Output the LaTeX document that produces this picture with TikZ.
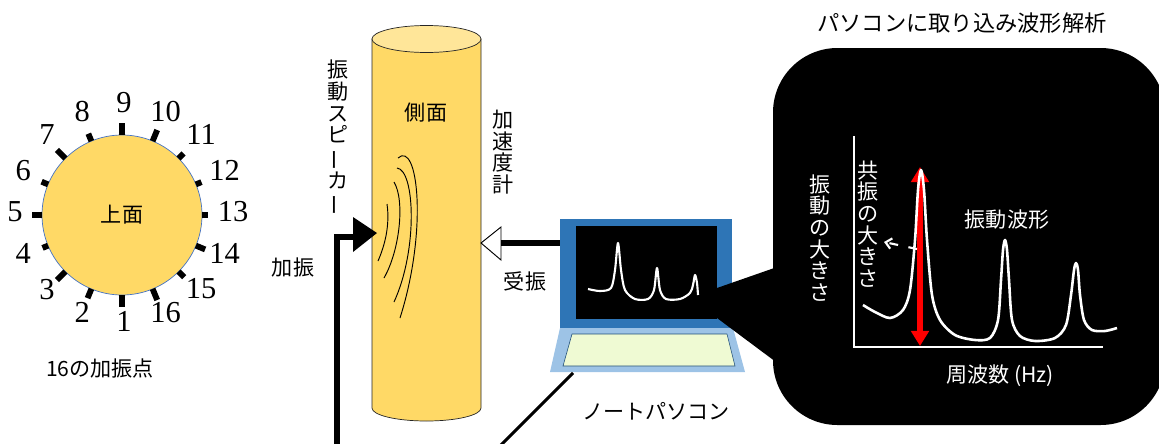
\documentclass[tikz,border=0pt]{standalone}
\usepackage{fontspec}
\setmainfont{Noto Sans CJK JP}
\newfontfamily\numfont{Liberation Serif}
\usepackage{tikz}
\usetikzlibrary{positioning, calc, arrows.meta}

\definecolor{wood}{HTML}{FFD966}
\definecolor{woodtop}{HTML}{FFE699}
\definecolor{rimblue}{HTML}{4472C4}
\definecolor{lapframe}{HTML}{2E75B6}
\definecolor{lapbase}{HTML}{9DC3E6}
\definecolor{lapkeys}{HTML}{EFFAD3}
\definecolor{keyedge}{HTML}{1F4E79}

% vertical long-vowel mark for tategaki labels
\newcommand{\chouon}{\rotatebox[origin=c]{90}{ー}}

\begin{document}
\begin{tikzpicture}[x=0.03cm, y=-0.03cm,
    jp/.style={font=\fontsize{18}{18.5}\selectfont, inner sep=0pt},
    tate/.style={jp, align=center},
    num/.style={font=\numfont\fontsize{26}{26}\selectfont, inner sep=0pt},
    tick/.style={line width=5pt},
    feed/.style={line width=4.3pt},
    wave/.style={line width=0.8pt},
    trace/.style={white, line width=2.2pt, line join=round}]
        \clip (0,0) rectangle (1159,443);

        % Top view with the 16 excitation points
        \coordinate (o) at (122,215);
        \filldraw[fill=wood, draw=rimblue, line width=0.6pt] (o) circle[radius=80];
        \node[jp] (topface) at (o) {上面};
        \foreach \k/\len in {1/12,2/10,3/12,4/6,5/10,6/7,7/12,8/8,9/12,10/12,11/7,12/6,13/6,14/10,15/8,16/12} {
          \pgfmathsetmacro{\a}{90+(\k-1)*22.5}
          \pgfmathsetmacro{\r}{80+\len}
          \draw[tick] ($(o)+(\a:80)$) -- ($(o)+(\a:\r)$);
          \node[num] (n\k) at ($(o)+(2,-3)+(\a:109)$) {\k};
        }
        \node[jp] (points) at (100,368) {16の加振点};

        % Side view (log as a cylinder)
        \coordinate (cyl) at (426.5,39);
        \filldraw[fill=wood, draw=black!85, line width=0.6pt] (372,39) -- (372,408)
          arc[start angle=180, end angle=0, x radius=54.5, y radius=13] -- (481,39) -- cycle;
        \filldraw[fill=woodtop, draw=black!85, line width=0.6pt] (cyl) ellipse[x radius=54.5, y radius=13.5];
        \node[jp] (side) at (426,113) {側面};
        % Sound waves
        \draw[wave] (398,158) .. controls (418,140) and (428,230) .. (400,318);
        \draw[wave] (397,168) .. controls (415,170) and (418,250) .. (394,302);
        \draw[wave] (394,182) .. controls (405,200) and (400,250) .. (384,278);
        \draw[wave] (387,204) .. controls (390,225) and (385,245) .. (378,261);

        % Speaker (input)
        \fill (353,217) -- (377,233) -- (353,252) -- cycle;
        \coordinate (spk) at (353,237);
        \coordinate (amp) at (337,450);
        \draw[feed] (amp) |- (spk);
        \node[tate] (spklabel) at (338,138) {振\\動\\ス\\ピ\\\chouon\\カ\\\chouon};
        \node[jp] (excite) at (293,268) {加振};

        % Accelerometer (output)
        \filldraw[fill=white, line width=0.8pt] (481,243) -- (501,227) -- (501,260) -- cycle;
        \coordinate (acc) at (501,243);
        \node[tate] (acclabel) at (503,152) {加\\速\\度\\計};
        \node[jp] (receive) at (525,281) {受振};

        % Laptop
        \fill[lapframe] (560,219) rectangle (732,328);
        \fill (576,226) rectangle (717,319);
        \coordinate (lapin) at (560,243);
        \fill[lapbase] (560,328) -- (733,328) -- (745,372) -- (550,372) -- cycle;
        \filldraw[fill=lapkeys, draw=keyedge, line width=0.5pt] (572,334) -- (727,334) -- (735,366) -- (563,366) -- cycle;
        \draw[trace, line width=1.8pt] plot[smooth, tension=0.5] coordinates {(588,289) (600,291) (611,288) (615,270) (618,243) (621,270) (625,290) (635,299) (648,299) (654,290) (657,268) (660,290) (666,299) (680,299) (690,293) (693,285) (695,275) (697,283) (698,295)};
        \draw[feed] (acc) -- (lapin);
        \coordinate (lapcable) at (573,373);
        \coordinate (pc) at (495,451);
        \draw[line width=2.6pt] (lapcable) -- (pc);
        \node[jp] (laptop) at (656,411) {ノートパソコン};

        % Zoomed screen (callout)
        \fill[rounded corners=55pt] (773,48) rectangle (1165,425);
        \fill (717,288) -- (780,266) -- (780,365) -- (717,318) -- cycle;
        \node[jp, font=\fontsize{19}{19}\selectfont] (title) at (962,23) {パソコンに取り込み波形解析};

        % Spectrum plot
        \coordinate (gorig) at (854,347);
        \draw[white, line width=2.5pt] (854,136) -- (gorig) -- (1103,347);
        \coordinate (pklow) at (920,346);
        \coordinate (pkhigh) at (920,167);
        \draw[red, line width=5pt, {Triangle[length=13pt,width=15pt]}-{Triangle[length=13pt,width=15pt]}] (pklow) -- (pkhigh);
        \draw[trace] plot[smooth, tension=0.5] coordinates {(863,305) (875,312) (890,318) (903,310) (910,290) (915,240) (918,190) (921,170) (924,190) (927,240) (932,295) (940,320) (955,335) (975,340) (990,338) (998,320) (1001,280) (1003,250) (1005,240) (1007,250) (1009,280) (1012,320) (1020,336) (1035,341) (1055,338) (1066,325) (1071,295) (1074,270) (1076,263) (1078,270) (1080,295) (1084,320) (1092,330) (1105,331) (1117,328)};
        \node[tate, text=white] (amplabel) at (820,238) {振\\動\\の\\大\\き\\さ};
        \node[tate, text=white] (reslabel) at (868,224) {共\\振\\の\\大\\き\\さ};
        \coordinate (pkside) at (917,249);
        \coordinate (restip) at (884,242);
        \draw[white, line width=1.8pt, dash pattern=on 7.5pt off 9pt, -{Straight Barb[length=5pt,width=9pt]}] (pkside) -- (restip);
        \node[jp, text=white] (wavelabel) at (1007,220) {振動波形};
        \node[jp, text=white] (freq) at (1000,376) {周波数 (Hz)};
      \end{tikzpicture}
\end{document}
